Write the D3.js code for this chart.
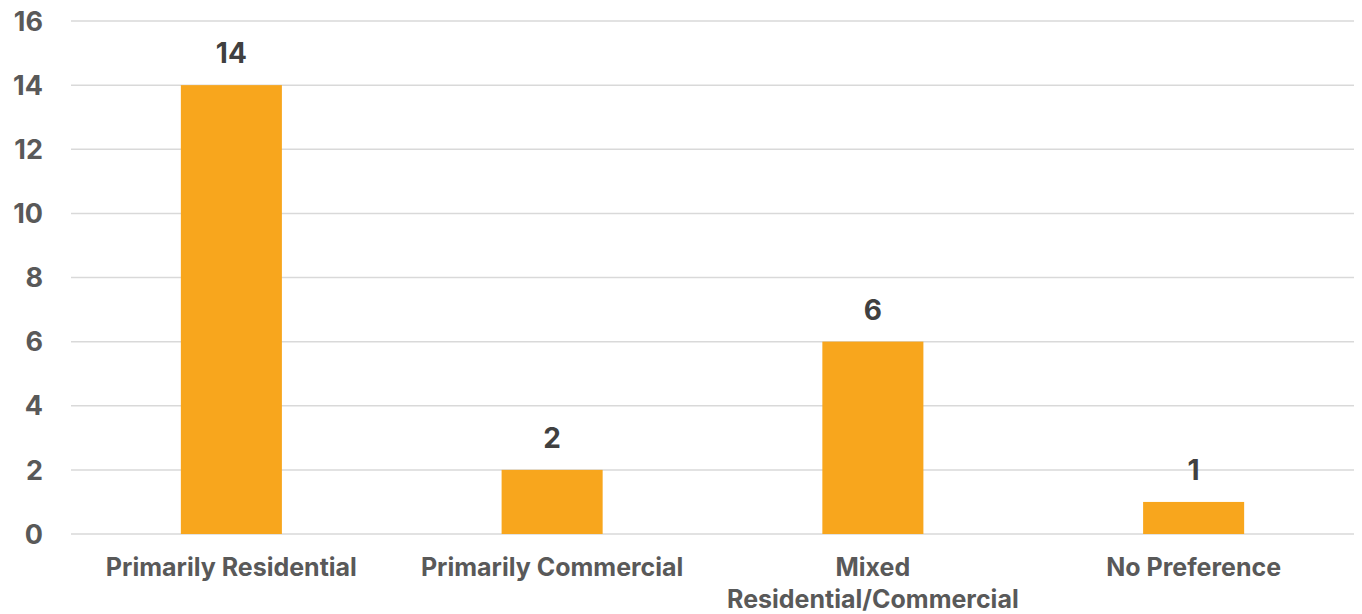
<!DOCTYPE html>
<html>
<head>
<meta charset="utf-8">
<script src="https://cdn.jsdelivr.net/npm/d3@7"></script>
<style>
  body { margin: 0; background: #fff; }
  svg text { font-family: 'Inter', 'Open Sans', sans-serif; font-weight: 700; }
</style>
</head>
<body>
<div id="chart"></div>
<script>
var categories = ['Primarily Residential', 'Primarily Commercial', 'Mixed Residential/Commercial', 'No Preference'];
var counts = [14, 2, 6, 1];
var yTicks = [0, 2, 4, 6, 8, 10, 12, 14, 16];

var width = 1362, height = 614;
var margin = {top: 21, right: 8, bottom: 80, left: 71};

var data = categories.map(function(c, i) {
	return {cat: c, val: counts[i]};
});

var svg = d3.select('#chart')
	.append('svg')
	.attr('width', width)
	.attr('height', height);

var x = d3.scaleBand()
	.domain(categories)
	.range([margin.left, width - margin.right])
	.paddingInner(0.685)
	.paddingOuter(0.3425);

var y = d3.scaleLinear()
	.domain([0, 16])
	.range([height - margin.bottom, margin.top]);

// gridlines
svg.append('g')
	.selectAll('line')
	.data(yTicks)
	.enter()
	.append('line')
	.attr('x1', margin.left)
	.attr('x2', width - margin.right)
	.attr('y1', d => y(d))
	.attr('y2', d => y(d))
	.attr('stroke', '#d9d9d9')
	.attr('stroke-width', 1.5);

// y labels
svg.append('g')
	.selectAll('text')
	.data(yTicks)
	.enter()
	.append('text')
	.attr('x', 43)
	.attr('y', d => y(d))
	.attr('dy', '0.36em')
	.attr('text-anchor', 'end')
	.attr('fill', '#595959')
	.style('font-size', '27px')
	.text(d => d);

// bars
svg.append('g')
	.selectAll('rect')
	.data(data)
	.enter()
	.append('rect')
	.attr('x', d => x(d.cat))
	.attr('width', x.bandwidth())
	.attr('y', d => y(d.val))
	.attr('height', d => y(0) - y(d.val))
	.attr('fill', '#f8a61d');

// value labels
svg.append('g')
	.selectAll('text')
	.data(data)
	.enter()
	.append('text')
	.attr('x', d => x(d.cat) + x.bandwidth() / 2)
	.attr('y', d => y(d.val) - 22)
	.attr('text-anchor', 'middle')
	.attr('fill', '#404040')
	.style('font-size', '28px')
	.text(d => d.val);

// category labels, wrap the long one
var catLines = function(c) {
	return c.length > 22 ? c.split(' ') : [c];
};

svg.append('g')
	.selectAll('text')
	.data(data)
	.enter()
	.append('text')
	.attr('x', d => x(d.cat) + x.bandwidth() / 2)
	.attr('y', 576)
	.attr('text-anchor', 'middle')
	.attr('fill', '#595959')
	.style('font-size', '25px')
	.each(function(d) {
		var t = d3.select(this);
		catLines(d.cat).forEach(function(line, i) {
			t.append('tspan')
				.attr('x', x(d.cat) + x.bandwidth() / 2)
				.attr('dy', i == 0 ? 0 : 32)
				.text(line);
		});
	});
</script>
</body>
</html>
